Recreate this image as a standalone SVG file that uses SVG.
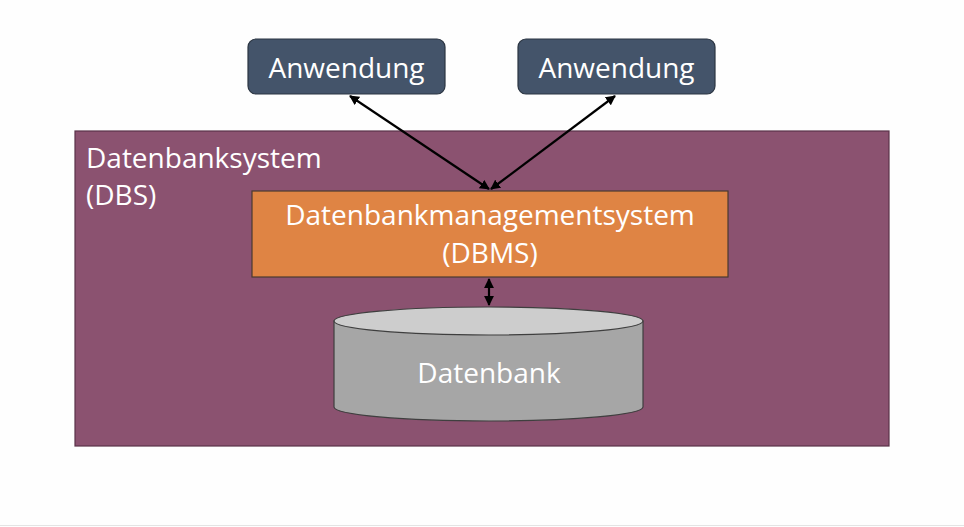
<svg xmlns="http://www.w3.org/2000/svg" width="964" height="527" viewBox="0 0 964 527">
<style>
text{font-family:"Open Sans","Noto Sans",sans-serif;fill:#ffffff;font-size:28px}
.app{fill:#44546A;stroke:#2B3542;stroke-width:1.2}
.c{text-anchor:middle}
.con{stroke:#000;stroke-width:2.2;fill:none;marker-start:url(#ah);marker-end:url(#ah)}
</style>
<defs>
<marker id="ah" viewBox="0 0 10 10" refX="9" refY="5" markerWidth="4.5" markerHeight="4.5" orient="auto-start-reverse" markerUnits="strokeWidth">
<path d="M0,0 L10,5 L0,10 z" fill="#000"/>
</marker>
</defs>
<rect width="964" height="527" fill="#fefefe"/>
<line x1="0" y1="525.5" x2="964" y2="525.5" stroke="#e4e4e4" stroke-width="1"/>
<g id="dbs">
<rect x="75" y="131" width="814" height="315" fill="#8B5270" stroke="#5A3349" stroke-width="1.2"/>
<text x="86" y="168">Datenbanksystem</text>
<text x="86" y="205">(DBS)</text>
</g>
<g id="app1">
<rect class="app" x="248" y="39" width="197" height="55" rx="8"/>
<text class="c" x="346.5" y="77.5">Anwendung</text>
</g>
<g id="app2">
<rect class="app" x="518" y="39" width="197" height="55" rx="8"/>
<text class="c" x="616.5" y="77.5">Anwendung</text>
</g>
<g id="dbms">
<rect x="252" y="191" width="476" height="86" fill="#DF8444" stroke="#4a3a30" stroke-width="1.2"/>
<text class="c" x="490" y="225">Datenbankmanagementsystem</text>
<text class="c" x="490" y="263">(DBMS)</text>
</g>
<g id="db">
<path d="M334,321 L334,407 A154.5,14 0 0 0 643,407 L643,321 Z" fill="#A6A6A6" stroke="#3f3f3f" stroke-width="1.2"/>
<ellipse cx="488.5" cy="321" rx="154.5" ry="14" fill="#CDCDCD" stroke="#3f3f3f" stroke-width="1.2"/>
<text class="c" x="489" y="383">Datenbank</text>
</g>
<g id="connectors">
<line class="con" x1="350" y1="96" x2="489" y2="189"/>
<line class="con" x1="615" y1="96" x2="491" y2="189"/>
<line class="con" x1="489" y1="279" x2="489" y2="305"/>
</g>
</svg>
